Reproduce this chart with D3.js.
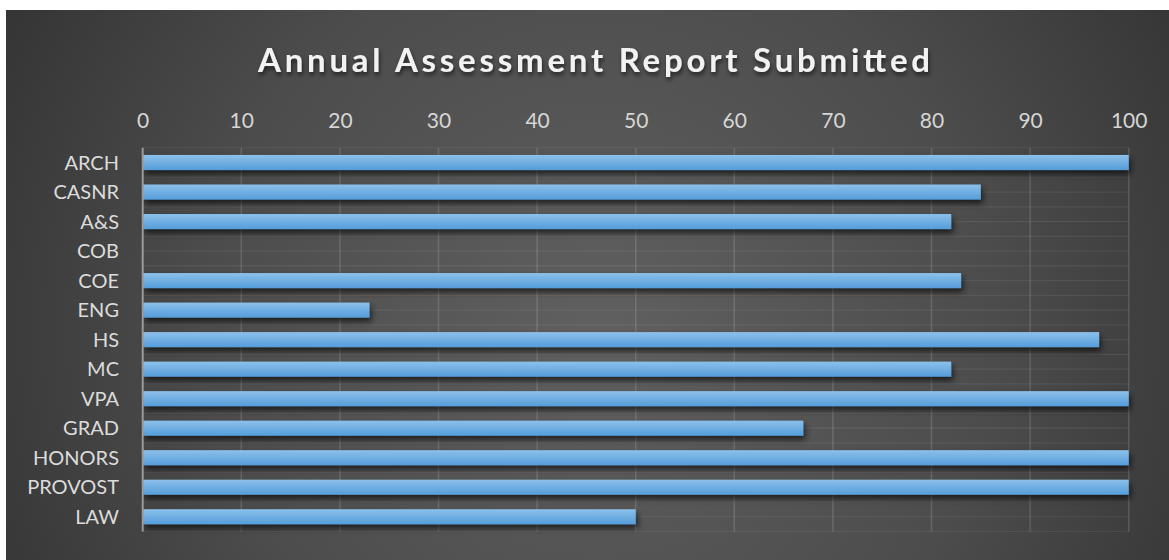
<!DOCTYPE html>
<html>
<head>
<meta charset="utf-8">
<script src="https://cdn.jsdelivr.net/npm/d3@7"></script>
<style>
  body { margin: 0; background: #fff; }
  svg { display: block; }
</style>
</head>
<body>
<div id="chart"></div>
<script>
// Chart data
var categories = ["ARCH", "CASNR", "A&S", "COB", "COE", "ENG", "HS", "MC", "VPA", "GRAD", "HONORS", "PROVOST", "LAW"];
var values = [100, 85, 82, 0, 83, 23, 97, 82, 100, 67, 100, 100, 50];
var ticks = [0, 10, 20, 30, 40, 50, 60, 70, 80, 90, 100];
var title = "Annual Assessment Report Submitted";

var w = 1169;
var h = 560;
var margin = { top: 147.75, right: 40.3, bottom: 28.5, left: 142.7 };

var svg = d3.select("#chart")
    .append("svg")
    .attr("width", w)
    .attr("height", h);

var defs = svg.append("defs");

// background gradient
var bg = defs.append("radialGradient")
    .attr("id", "bg")
    .attr("gradientUnits", "userSpaceOnUse")
    .attr("cx", 600).attr("cy", 330).attr("r", 720);
bg.append("stop").attr("offset", "0%").attr("stop-color", "#606060");
bg.append("stop").attr("offset", "55%").attr("stop-color", "#4c4c4c");
bg.append("stop").attr("offset", "100%").attr("stop-color", "#313131");

// bar gradient
var barGrad = defs.append("linearGradient")
    .attr("id", "barGrad")
    .attr("x1", 0).attr("y1", 0).attr("x2", 0).attr("y2", 1);
barGrad.append("stop").attr("offset", "0%").attr("stop-color", "#8cc0ea");
barGrad.append("stop").attr("offset", "100%").attr("stop-color", "#559dda");

var shadow = defs.append("filter")
    .attr("id", "shadow")
    .attr("x", "-5%").attr("y", "-50%").attr("width", "110%").attr("height", "250%");
shadow.append("feDropShadow")
    .attr("dx", 2).attr("dy", 4).attr("stdDeviation", 3)
    .attr("flood-color", "#000").attr("flood-opacity", 0.65);

var titleShadow = defs.append("filter").attr("id", "tshadow");
titleShadow.append("feDropShadow")
    .attr("dx", 1).attr("dy", 3).attr("stdDeviation", 2)
    .attr("flood-color", "#000").attr("flood-opacity", 0.6);

svg.append("rect")
    .attr("x", 6).attr("y", 10)
    .attr("width", w - 6).attr("height", h - 10)
    .attr("fill", "url(#bg)");

var x = d3.scaleLinear()
    .domain([0, 100])
    .range([margin.left, w - margin.right]);

var y = d3.scaleBand()
    .domain(categories)
    .range([margin.top, h - margin.bottom])
    .paddingInner(0.49)
    .paddingOuter(0.245);

var band = y.step();

// minor horizontal gridlines every half category
var half = d3.range(0, categories.length * 2 + 1);
svg.append("g")
    .selectAll("line")
    .data(half)
    .enter()
    .append("line")
    .attr("x1", x(0)).attr("x2", x(100))
    .attr("y1", function (d) { return margin.top + d * band / 2; })
    .attr("y2", function (d) { return margin.top + d * band / 2; })
    .style("stroke", "#fff")
    .style("stroke-opacity", 0.07)
    .style("stroke-width", 1.2);

// vertical gridlines
svg.append("g")
    .selectAll("line")
    .data(ticks.slice(1))
    .enter()
    .append("line")
    .attr("x1", function (d) { return x(d); })
    .attr("x2", function (d) { return x(d); })
    .attr("y1", margin.top)
    .attr("y2", h - margin.bottom)
    .style("stroke", "#fff")
    .style("stroke-opacity", 0.14)
    .style("stroke-width", 1.5);

// bars
var rows = categories.map(function (c, i) { return { name: c, value: values[i] }; })
    .filter(function (d) { return d.value > 0; });

svg.append("g")
    .selectAll("rect")
    .data(rows)
    .enter()
    .append("rect")
    .attr("x", x(0))
    .attr("y", function (d) { return y(d.name); })
    .attr("width", function (d) { return x(d.value) - x(0); })
    .attr("height", y.bandwidth())
    .attr("fill", "url(#barGrad)")
    .attr("filter", "url(#shadow)");

// value axis line
svg.append("line")
    .attr("x1", x(0)).attr("x2", x(0))
    .attr("y1", margin.top).attr("y2", h - margin.bottom)
    .style("stroke", "#9a9a9a")
    .style("stroke-width", 2);

// top axis tick labels
var xAxis = d3.axisTop(x)
    .tickValues(ticks)
    .tickSize(0)
    .tickPadding(0);

var gx = svg.append("g")
    .attr("transform", "translate(0,128)")
    .call(xAxis);
gx.select(".domain").remove();
gx.selectAll("text")
    .attr("dy", 0)
    .style("font-family", "Lato, sans-serif")
    .style("font-size", "21px")
    .style("fill", "#d6d6d6");

// category labels
var yAxis = d3.axisLeft(y)
    .tickSize(0)
    .tickPadding(0);

var gy = svg.append("g")
    .attr("transform", "translate(119,0)")
    .call(yAxis);
gy.select(".domain").remove();
gy.selectAll("text")
    .attr("dy", "0.36em")
    .style("font-family", "Lato, sans-serif")
    .style("font-size", "20px")
    .style("fill", "#dcdcdc");

// title
svg.append("text")
    .attr("x", 594)
    .attr("y", 72)
    .attr("text-anchor", "middle")
    .attr("textLength", 672)
    .attr("lengthAdjust", "spacing")
    .attr("filter", "url(#tshadow)")
    .style("font-family", "Lato, sans-serif")
    .style("font-weight", "bold")
    .style("font-size", "33px")
    .style("fill", "#f2f2f2")
    .text(title);
</script>
</body>
</html>
